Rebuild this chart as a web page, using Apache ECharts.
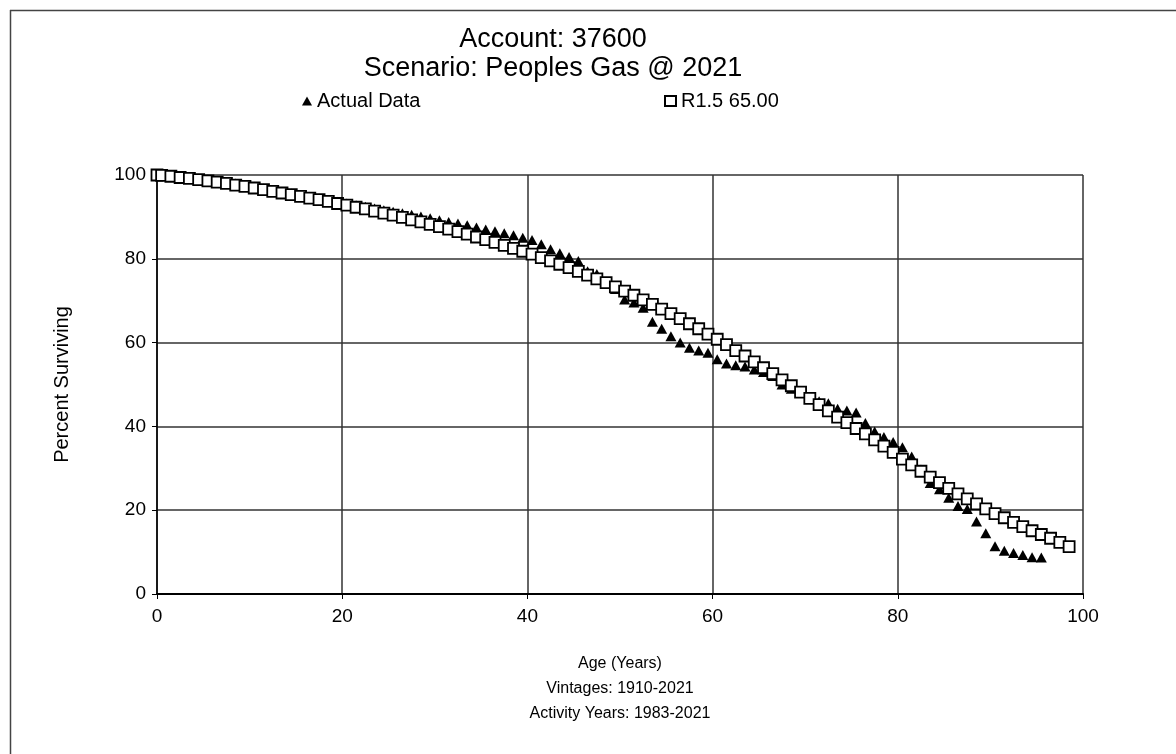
<!DOCTYPE html>
<html>
<head>
<meta charset="utf-8">
<script src="https://cdn.jsdelivr.net/npm/echarts@6/dist/echarts.min.js"></script>
<style>
html,body{margin:0;padding:0;background:#fff;}
#chart{width:1176px;height:754px;}
</style>
</head>
<body>
<div id="chart"></div>
<script>
const titleLines = ['Account: 37600', 'Scenario: Peoples Gas @ 2021'];
const xAxisNameLines = ['Age (Years)', 'Vintages: 1910-2021', 'Activity Years: 1983-2021'];
const yAxisName = 'Percent Surviving';
const seriesNames = ['Actual Data', 'R1.5 65.00'];
const xTicks = [0, 20, 40, 60, 80, 100];
const yTicks = [0, 20, 40, 60, 80, 100];

const actualAges = [
  0.5, 1.5, 2.5, 3.5, 4.5, 5.5, 6.5, 7.5, 8.5, 9.5,
  10.5, 11.5, 12.5, 13.5, 14.5, 15.5, 16.5, 17.5, 18.5, 19.5,
  20.5, 21.5, 22.5, 23.5, 24.5, 25.5, 26.5, 27.5, 28.5, 29.5,
  30.5, 31.5, 32.5, 33.5, 34.5, 35.5, 36.5, 37.5, 38.5, 39.5,
  40.5, 41.5, 42.5, 43.5, 44.5, 45.5, 46.5, 47.5, 48.5, 49.5,
  50.5, 51.5, 52.5, 53.5, 54.5, 55.5, 56.5, 57.5, 58.5, 59.5,
  60.5, 61.5, 62.5, 63.5, 64.5, 65.5, 66.5, 67.5, 68.5, 69.5,
  70.5, 71.5, 72.5, 73.5, 74.5, 75.5, 76.5, 77.5, 78.5, 79.5,
  80.5, 81.5, 82.5, 83.5, 84.5, 85.5, 86.5, 87.5, 88.5, 89.5,
  90.5, 91.5, 92.5, 93.5, 94.5, 95.5
];
const actualValues = [
  99.9, 99.8, 99.6, 99.4, 99.1, 98.9, 98.6, 98.3, 98.0, 97.6,
  97.2, 96.8, 96.4, 96.0, 95.6, 95.2, 94.8, 94.4, 94.0, 93.6,
  93.2, 92.8, 92.4, 92.0, 91.6, 91.2, 90.9, 90.5, 90.1, 89.7,
  89.2, 88.8, 88.4, 88.0, 87.5, 87.0, 86.6, 86.1, 85.6, 85.0,
  84.5, 83.5, 82.3, 81.3, 80.4, 79.5, 77.0, 76.4, 74.5, 72.8,
  70.3, 69.6, 68.3, 65.0, 63.3, 61.5, 60.0, 58.8, 58.1, 57.6,
  56.0, 55.0, 54.6, 54.3, 53.6, 53.0, 52.0, 50.0, 49.0, 48.0,
  47.0, 46.0, 45.5, 44.2, 43.8, 43.3, 40.8, 38.8, 37.5, 36.3,
  35.0, 32.8, 29.7, 26.5, 25.0, 23.0, 21.0, 20.3, 17.3, 14.5,
  11.4, 10.3, 9.8, 9.3, 8.8, 8.7
];

const fittedAges = [
  0,
  0.5, 1.5, 2.5, 3.5, 4.5, 5.5, 6.5, 7.5, 8.5, 9.5,
  10.5, 11.5, 12.5, 13.5, 14.5, 15.5, 16.5, 17.5, 18.5, 19.5,
  20.5, 21.5, 22.5, 23.5, 24.5, 25.5, 26.5, 27.5, 28.5, 29.5,
  30.5, 31.5, 32.5, 33.5, 34.5, 35.5, 36.5, 37.5, 38.5, 39.5,
  40.5, 41.5, 42.5, 43.5, 44.5, 45.5, 46.5, 47.5, 48.5, 49.5,
  50.5, 51.5, 52.5, 53.5, 54.5, 55.5, 56.5, 57.5, 58.5, 59.5,
  60.5, 61.5, 62.5, 63.5, 64.5, 65.5, 66.5, 67.5, 68.5, 69.5,
  70.5, 71.5, 72.5, 73.5, 74.5, 75.5, 76.5, 77.5, 78.5, 79.5,
  80.5, 81.5, 82.5, 83.5, 84.5, 85.5, 86.5, 87.5, 88.5, 89.5,
  90.5, 91.5, 92.5, 93.5, 94.5, 95.5, 96.5, 97.5, 98.5
];
const fittedValues = [
  100,
  99.9, 99.7, 99.4, 99.2, 98.9, 98.6, 98.3, 98.0, 97.6, 97.3,
  96.9, 96.5, 96.1, 95.7, 95.3, 94.9, 94.5, 94.1, 93.7, 93.2,
  92.8, 92.3, 91.9, 91.4, 90.9, 90.4, 89.9, 89.3, 88.8, 88.2,
  87.7, 87.1, 86.5, 85.9, 85.2, 84.6, 83.9, 83.2, 82.5, 81.8,
  81.1, 80.3, 79.5, 78.7, 77.9, 77.0, 76.1, 75.2, 74.3, 73.3,
  72.3, 71.3, 70.2, 69.1, 68.0, 66.9, 65.7, 64.5, 63.3, 62.0,
  60.8, 59.5, 58.1, 56.8, 55.4, 54.0, 52.6, 51.1, 49.7, 48.2,
  46.7, 45.2, 43.7, 42.2, 40.9, 39.5, 38.2, 36.8, 35.3, 33.8,
  32.2, 30.8, 29.3, 27.9, 26.6, 25.2, 23.9, 22.7, 21.5, 20.3,
  19.2, 18.2, 17.1, 16.1, 15.1, 14.2, 13.3, 12.3, 11.3
];

const FONT = '"Liberation Sans", Arial, sans-serif';
const chart = echarts.init(document.getElementById('chart'), null, {renderer: 'canvas'});

const option = {
  backgroundColor: '#ffffff',
  animation: false,
  textStyle: {fontFamily: FONT, color: '#000'},
  title: {
    text: titleLines.join('\n'),
    left: 548,
    textAlign: 'center',
    top: 20,
    textStyle: {fontFamily: FONT, fontSize: 27, fontWeight: 'normal', color: '#000', lineHeight: 29}
  },
  legend: [
    {
      data: [{name: seriesNames[0], icon: 'triangle'}],
      left: 297, top: 86,
      itemWidth: 10, itemHeight: 9, itemGap: 10,
      textStyle: {fontFamily: FONT, fontSize: 20, color: '#000'}
    },
    {
      data: [{name: seriesNames[1], icon: 'rect'}],
      left: 659, top: 86,
      itemWidth: 11, itemHeight: 10, itemGap: 10,
      textStyle: {fontFamily: FONT, fontSize: 20, color: '#000'}
    }
  ],
  grid: {left: 157, right: 93, top: 175, bottom: 160, containLabel: false},
  xAxis: {
    type: 'value', min: 0, max: 100, interval: 20,
    name: xAxisNameLines.join('\n'),
    nameLocation: 'middle', nameGap: 57,
    nameTextStyle: {fontFamily: FONT, fontSize: 16, color: '#000', lineHeight: 25},
    axisLine: {show: true, onZero: false, lineStyle: {color: '#000', width: 2}},
    axisTick: {show: true, length: 5, lineStyle: {color: '#000'}},
    axisLabel: {fontFamily: FONT, fontSize: 19, color: '#000', margin: 13},
    splitLine: {show: true, lineStyle: {color: '#333', width: 1.5}}
  },
  yAxis: {
    type: 'value', min: 0, max: 100, interval: 20,
    name: yAxisName,
    nameLocation: 'middle', nameGap: 85, nameRotate: 90,
    nameTextStyle: {fontFamily: FONT, fontSize: 20, color: '#000'},
    axisLine: {show: true, onZero: false, lineStyle: {color: '#000', width: 1.5}},
    axisTick: {show: true, length: 5, lineStyle: {color: '#000'}},
    axisLabel: {fontFamily: FONT, fontSize: 19, color: '#000', margin: 11},
    splitLine: {show: true, lineStyle: {color: '#333', width: 1.5}}
  },
  series: [
    {
      name: seriesNames[0],
      type: 'scatter',
      symbol: 'triangle',
      symbolSize: [11, 10],
      itemStyle: {color: '#000', opacity: 1},
      z: 2,
      data: actualAges.map((a, i) => [a, actualValues[i]])
    },
    {
      name: seriesNames[1],
      type: 'scatter',
      symbol: 'rect',
      symbolSize: 11,
      itemStyle: {color: '#fff', borderColor: '#000', borderWidth: 1.8, opacity: 1},
      z: 3,
      data: fittedAges.map((a, i) => [a, fittedValues[i]])
    }
  ],
  graphic: [
    {type: 'line', shape: {x1: 10, y1: 10.5, x2: 1176, y2: 10.5}, style: {stroke: '#444', lineWidth: 1.5}, silent: true},
    {type: 'line', shape: {x1: 10.5, y1: 10, x2: 10.5, y2: 754}, style: {stroke: '#444', lineWidth: 1.5}, silent: true}
  ]
};
chart.setOption(option);
</script>
</body>
</html>
